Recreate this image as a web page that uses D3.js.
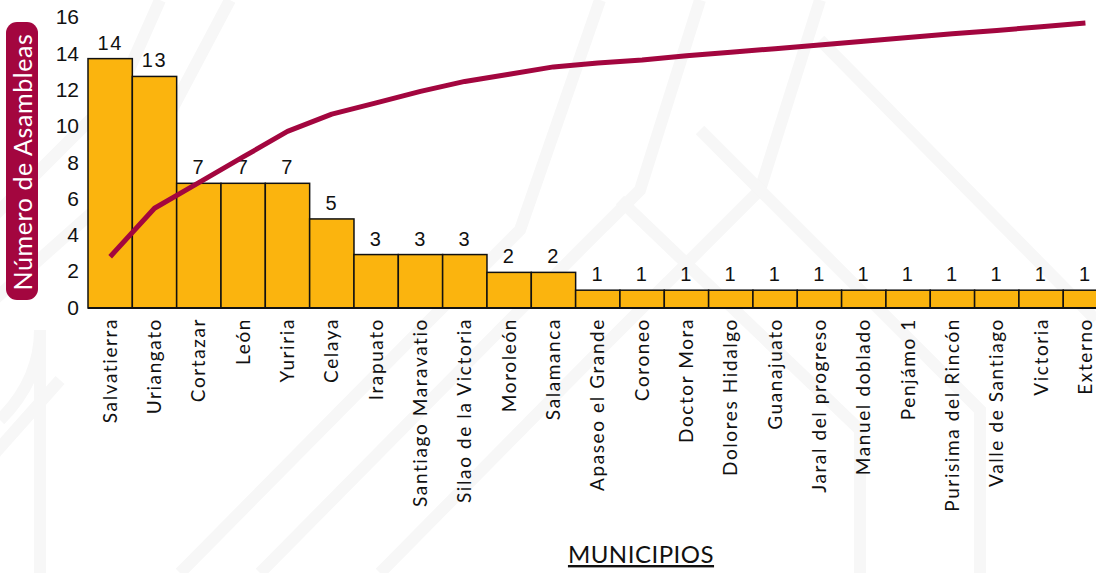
<!DOCTYPE html>
<html>
<head>
<meta charset="utf-8">
<script src="https://cdn.jsdelivr.net/npm/d3@7"></script>
<style>
  html, body { margin: 0; padding: 0; background: #fff; }
  svg { display: block; }
</style>
</head>
<body>
<svg id="chart" width="1096" height="573"></svg>
<script>
// ---- data ----
const categories = ["Salvatierra","Uriangato","Cortazar","León","Yuriria","Celaya","Irapuato",
  "Santiago Maravatio","Silao de la Victoria","Moroleón","Salamanca","Apaseo el Grande","Coroneo",
  "Doctor Mora","Dolores Hidalgo","Guanajuato","Jaral del progreso","Manuel doblado","Penjámo 1",
  "Purisima del Rincón","Valle de Santiago","Victoria","Externo"];
const asambleas = [14,13,7,7,7,5,3,3,3,2,2,1,1,1,1,1,1,1,1,1,1,1,1];
const acumuladoPct = [18,35,44,53,62,68,72,76,79.5,82,84.6,86,87,88.5,89.7,91,92.3,93.6,94.9,96.2,97.4,98.7,100];
const yTicks = [0,2,4,6,8,10,12,14,16];

const svg = d3.select("#chart");
const W = 1096, H = 573;

// very faint decorative background strokes
const bg = svg.append("g").attr("fill","none").attr("stroke","#f7f7f7").attr("stroke-width",12);
[
  "M-40,250 L120,90 L160,0", "M-40,330 L140,170 L230,0", "M0,420 Q40,380 40,330 L40,573",
  "M180,573 L420,330 L520,230 L600,0", "M260,573 L500,330 L640,190 L700,0",
  "M380,573 L600,350 L760,190 L820,0", "M620,200 L860,430 L860,573", "M700,130 L980,410 L980,573",
  "M820,40 L1096,320", "M-20,470 L60,380"
].forEach(d => bg.append("path").attr("d", d));

const x = d3.scaleBand().domain(categories).range([88, 88 + 44.33*categories.length]).padding(0);
const y = d3.scaleLinear().domain([0,16]).range([308, 23]);
const yPct = d3.scaleLinear().domain([0,100]).range([308, 23]);

// bars
svg.append("g").selectAll("rect").data(categories).join("rect")
  .attr("x", d => x(d))
  .attr("y", (d,i) => y(asambleas[i]))
  .attr("width", x.bandwidth())
  .attr("height", (d,i) => y(0) - y(asambleas[i]))
  .attr("fill", "#FBB40E")
  .attr("stroke", "#111")
  .attr("stroke-width", 1.5);

// baseline
svg.append("line").attr("x1", 88).attr("x2", W).attr("y1", y(0)).attr("y2", y(0))
  .attr("stroke","#111").attr("stroke-width",2);

// value labels
svg.append("g").selectAll("text").data(categories).join("text")
  .attr("x", d => x(d) + x.bandwidth()/2)
  .attr("y", (d,i) => y(asambleas[i]) - 9)
  .attr("text-anchor","middle")
  .attr("font-family","'Liberation Sans Narrow', 'Liberation Sans', sans-serif")
  .attr("font-size", 20)
  .attr("letter-spacing", "1.5px")
  .attr("fill","#111")
  .text((d,i) => asambleas[i]);

// cumulative line
const line = d3.line()
  .x((d,i) => x(categories[i]) + x.bandwidth()/2)
  .y(d => yPct(d));
svg.append("path").datum(acumuladoPct)
  .attr("d", line)
  .attr("fill","none")
  .attr("stroke","#A3063F")
  .attr("stroke-width",5)
  .attr("stroke-linejoin","round");

// y tick labels
const yAxis = d3.axisLeft(y).tickValues(yTicks).tickSize(0).tickPadding(0);
const ga = svg.append("g").attr("transform","translate(79,0)").call(yAxis);
ga.select(".domain").remove();
ga.selectAll("text")
  .attr("font-family","'Liberation Sans Narrow', 'Liberation Sans', sans-serif")
  .attr("font-size", 21)
  .attr("fill","#111")
  .attr("dy","0.3em")
  .attr("transform", d => `translate(0,${-d*0.35})`);

// category labels
const xAxis = d3.axisBottom(x).tickSize(0).tickPadding(0);
const gx = svg.append("g").attr("transform",`translate(0,${y(0)})`).call(xAxis);
gx.select(".domain").remove();
gx.selectAll("text")
  .attr("font-family","Lato, sans-serif")
  .attr("font-size", 19)
  .attr("letter-spacing", "1.6px")
  .attr("fill","#111")
  .attr("text-anchor","end")
  .attr("transform","rotate(-90)")
  .attr("x", -10)
  .attr("y", 0)
  .attr("dy","0.35em");

// y title box
svg.append("rect").attr("x",6).attr("y",22).attr("width",32).attr("height",278)
  .attr("rx",11).attr("fill","#A3063F");
svg.append("text")
  .attr("transform","translate(23,162) rotate(-90)")
  .attr("text-anchor","middle")
  .attr("dy","0.35em")
  .attr("font-family","Lato, sans-serif")
  .attr("font-size",25)
  .attr("letter-spacing","0.6px")
  .attr("fill","#fff")
  .text("Número de Asambleas");

// x title
svg.append("text")
  .attr("x",641).attr("y",563)
  .attr("text-anchor","middle")
  .attr("font-family","Lato, sans-serif")
  .attr("font-size",24)
  .attr("letter-spacing","0.5px")
  .attr("fill","#111")
  .attr("text-decoration","underline")
  .text("MUNICIPIOS");
</script>
</body>
</html>
